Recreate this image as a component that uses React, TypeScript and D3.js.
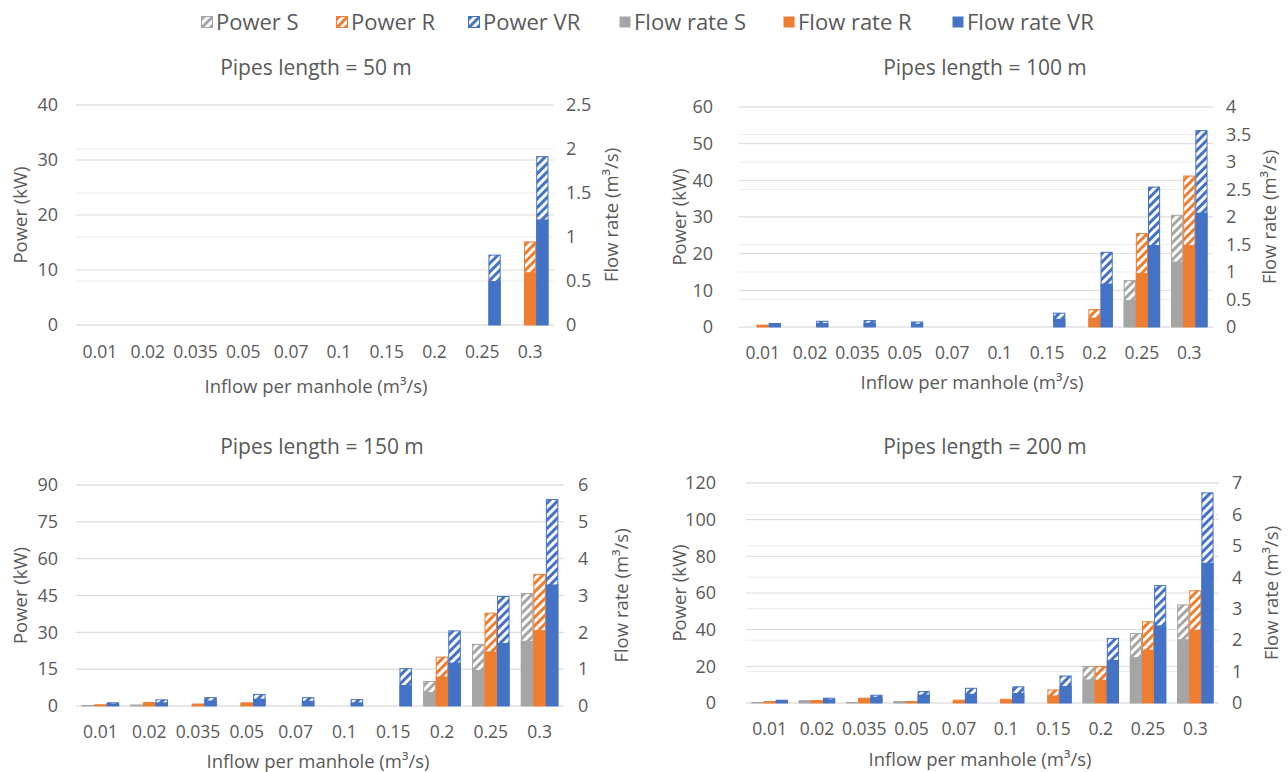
import * as d3 from "d3";
import React from "react";

const categories = ["0.01", "0.02", "0.035", "0.05", "0.07", "0.1", "0.15", "0.2", "0.25", "0.3"];
const seriesKeys = ["S", "R", "VR"];
const seriesColors: Record<string, string> = { S: "#A5A5A5", R: "#ED7D31", VR: "#4472C4" };

// Pipes length = 50 m
const powerS50 = [0, 0, 0, 0, 0, 0, 0, 0, 0, 0];
const powerR50 = [0, 0, 0, 0, 0, 0, 0, 0, 0, 15.2];
const powerVR50 = [0, 0, 0, 0, 0, 0, 0, 0, 12.8, 30.7];
const flowS50 = [0, 0, 0, 0, 0, 0, 0, 0, 0, 0];
const flowR50 = [0, 0, 0, 0, 0, 0, 0, 0, 0, 0.6];
const flowVR50 = [0, 0, 0, 0, 0, 0, 0, 0, 0.5, 1.2];

// Pipes length = 100 m
const powerS100 = [0, 0, 0, 0, 0, 0, 0, 0, 12.8, 30.6];
const powerR100 = [0.6, 0, 0, 0, 0, 0, 0, 4.9, 25.6, 41.3];
const powerVR100 = [1.1, 1.7, 1.9, 1.5, 0, 0, 3.9, 20.5, 38.3, 53.7];
const flowS100 = [0, 0, 0, 0, 0, 0, 0, 0, 0.49, 1.19];
const flowR100 = [0.04, 0, 0, 0, 0, 0, 0, 0.17, 0.98, 1.49];
const flowVR100 = [0.06, 0.07, 0.08, 0.06, 0, 0, 0.15, 0.79, 1.49, 2.08];

// Pipes length = 150 m
const powerS150 = [0.4, 0.6, 0, 0, 0, 0, 0, 10.2, 25.3, 46];
const powerR150 = [0.7, 1.6, 1.0, 1.5, 0, 0, 0, 20.1, 38, 53.8];
const powerVR150 = [1.5, 2.7, 3.6, 4.9, 3.6, 2.8, 15.4, 30.8, 44.8, 84.3];
const flowS150 = [0.02, 0.03, 0, 0, 0, 0, 0, 0.38, 0.98, 1.77];
const flowR150 = [0.03, 0.08, 0.05, 0.08, 0, 0, 0, 0.8, 1.48, 2.06];
const flowVR150 = [0.07, 0.1, 0.15, 0.2, 0.14, 0.1, 0.57, 1.18, 1.71, 3.3];

// Pipes length = 200 m
const powerS200 = [0.6, 1.5, 0.6, 1.0, 0, 0, 0, 20.2, 38.2, 53.8];
const powerR200 = [1.0, 1.6, 2.9, 1.0, 1.8, 2.3, 7.4, 20.2, 44.6, 61.5];
const powerVR200 = [1.8, 2.9, 4.5, 6.5, 8.3, 9.1, 15.0, 35.5, 64.3, 114.9];
const flowS200 = [0.03, 0.08, 0.03, 0.05, 0, 0, 0, 0.75, 1.46, 2.03];
const flowR200 = [0.05, 0.08, 0.15, 0.05, 0.08, 0.1, 0.24, 0.74, 1.7, 2.33];
const flowVR200 = [0.09, 0.12, 0.2, 0.27, 0.29, 0.32, 0.54, 1.37, 2.47, 4.46];

const legendItems = [
  { label: "Power S", key: "S", hatched: true },
  { label: "Power R", key: "R", hatched: true },
  { label: "Power VR", key: "VR", hatched: true },
  { label: "Flow rate S", key: "S", hatched: false },
  { label: "Flow rate R", key: "R", hatched: false },
  { label: "Flow rate VR", key: "VR", hatched: false },
];
const legendX = [201, 336, 468, 619, 783, 952];

type Layout = {
  left: number; right: number; top: number; bottom: number;
  leftTickX: number; rightTickX: number; leftTitleX: number; rightTitleX: number;
  titleX: number; titleY: number; catY: number; xTitleX: number; xTitleY: number;
};

type Panel = {
  title: string;
  powerMax: number; powerStep: number;
  flowMax: number; flowStep: number;
  power: number[][]; flow: number[][];
  layout: Layout;
};

const panels: Panel[] = [
  {
    title: "Pipes length = 50 m", powerMax: 40, powerStep: 10, flowMax: 2.5, flowStep: 0.5,
    power: [powerS50, powerR50, powerVR50], flow: [flowS50, flowR50, flowVR50],
    layout: { left: 76, right: 554, top: 105, bottom: 325, leftTickX: 58, rightTickX: 566, leftTitleX: 21, rightTitleX: 612, titleX: 316, titleY: 68, catY: 352, xTitleX: 316, xTitleY: 387 },
  },
  {
    title: "Pipes length = 100 m", powerMax: 60, powerStep: 10, flowMax: 4, flowStep: 0.5,
    power: [powerS100, powerR100, powerVR100], flow: [flowS100, flowR100, flowVR100],
    layout: { left: 739, right: 1213, top: 107, bottom: 327, leftTickX: 713, rightTickX: 1226, leftTitleX: 680, rightTitleX: 1270, titleX: 985, titleY: 68, catY: 353, xTitleX: 972, xTitleY: 383 },
  },
  {
    title: "Pipes length = 150 m", powerMax: 90, powerStep: 15, flowMax: 6, flowStep: 1,
    power: [powerS150, powerR150, powerVR150], flow: [flowS150, flowR150, flowVR150],
    layout: { left: 76, right: 564, top: 485, bottom: 706, leftTickX: 58, rightTickX: 578, leftTitleX: 21, rightTitleX: 622, titleX: 322, titleY: 447, catY: 732, xTitleX: 318, xTitleY: 762 },
  },
  {
    title: "Pipes length = 200 m", powerMax: 120, powerStep: 20, flowMax: 7, flowStep: 1,
    power: [powerS200, powerR200, powerVR200], flow: [flowS200, flowR200, flowVR200],
    layout: { left: 746, right: 1219, top: 483, bottom: 703, leftTickX: 716, rightTickX: 1232, leftTitleX: 680, rightTitleX: 1272, titleX: 985, titleY: 447, catY: 729, xTitleX: 980, xTitleY: 760 },
  },
];

const textColor = "#595959";
const font = "'Open Sans', 'Noto Sans', sans-serif";

const ChartPanel: React.FC<{ panel: Panel }> = ({ panel }) => {
  const L = panel.layout;
  const x = d3.scaleBand().domain(categories).range([L.left, L.right]);
  const xs = d3.scaleBand().domain(seriesKeys).range([0, x.bandwidth()]).paddingOuter(0.45);
  const yP = d3.scaleLinear().domain([0, panel.powerMax]).range([L.bottom, L.top]);
  const yF = d3.scaleLinear().domain([0, panel.flowMax]).range([L.bottom, L.top]);
  const pTicks = d3.range(0, panel.powerMax + 1e-9, panel.powerStep);
  const fTicks = d3.range(0, panel.flowMax + 1e-9, panel.flowStep);
  const midY = (L.top + L.bottom) / 2;

  return (
    <g fontFamily={font} fill={textColor}>
      {fTicks.map((t) => (
        <line key={"fg" + t} x1={L.left} x2={L.right} y1={yF(t)} y2={yF(t)} stroke="#EDEDED" strokeWidth={1} />
      ))}
      {pTicks.map((t) => (
        <line key={"pg" + t} x1={L.left} x2={L.right} y1={yP(t)} y2={yP(t)} stroke="#D9D9D9" strokeWidth={1} />
      ))}
      {seriesKeys.map((k, si) =>
        categories.map((c, ci) => {
          const pv = panel.power[si][ci];
          const fv = panel.flow[si][ci];
          const bx = (x(c) as number) + (xs(k) as number);
          const bw = xs.bandwidth();
          return (
            <g key={k + c}>
              {pv > 0 && (
                <rect x={bx + 0.5} y={yP(pv) + 0.5} width={bw - 1} height={Math.max(0, yP(0) - yP(pv) - 0.5)}
                  fill={`url(#hatch-${k})`} stroke={seriesColors[k]} strokeWidth={1} />
              )}
              {fv > 0 && (
                <rect x={bx} y={yF(fv)} width={bw} height={yF(0) - yF(fv)} fill={seriesColors[k]} />
              )}
            </g>
          );
        })
      )}
      {pTicks.map((t) => (
        <text key={"pt" + t} x={L.leftTickX} y={yP(t)} dy="0.35em" textAnchor="end" fontSize={18}>{t}</text>
      ))}
      {fTicks.map((t) => (
        <text key={"ft" + t} x={L.rightTickX} y={yF(t)} dy="0.35em" textAnchor="start" fontSize={18}>{t}</text>
      ))}
      {categories.map((c) => (
        <text key={"c" + c} x={(x(c) as number) + x.bandwidth() / 2} y={L.catY} dy="0.35em" textAnchor="middle" fontSize={17.5}>{c}</text>
      ))}
      <text x={L.titleX} y={L.titleY} dy="0.35em" textAnchor="middle" fontSize={21}>{panel.title}</text>
      <text x={L.xTitleX} y={L.xTitleY} dy="0.35em" textAnchor="middle" fontSize={18.5}>Inflow per manhole (m³/s)</text>
      <text transform={`translate(${L.leftTitleX},${midY}) rotate(-90)`} dy="0.35em" textAnchor="middle" fontSize={18.5}>Power (kW)</text>
      <text transform={`translate(${L.rightTitleX},${midY}) rotate(-90)`} dy="0.35em" textAnchor="middle" fontSize={18.5}>Flow rate (m³/s)</text>
    </g>
  );
};

export default function App() {
  return (
    <svg width={1288} height={772} style={{ position: "absolute", left: 0, top: 0, background: "#fff" }}>
      <defs>
        {seriesKeys.map((k) => (
          <pattern key={k} id={`hatch-${k}`} width={6} height={6} patternUnits="userSpaceOnUse" patternTransform="rotate(45)">
            <rect width={6} height={6} fill={seriesColors[k]} />
            <rect width={3} height={6} fill="#fff" />
          </pattern>
        ))}
      </defs>
      <rect width={1288} height={772} fill="#fff" />
      <g fontFamily={font} fill={textColor}>
        {legendItems.map((it, i) => (
          <g key={it.label} transform={`translate(${legendX[i]},22)`}>
            <rect x={0.5} y={-5.5} width={11} height={11}
              fill={it.hatched ? `url(#hatch-${it.key})` : seriesColors[it.key]}
              stroke={it.hatched ? seriesColors[it.key] : "none"} />
            <text x={15} y={0} dy="0.35em" fontSize={22}>{it.label}</text>
          </g>
        ))}
      </g>
      {panels.map((p) => (
        <ChartPanel key={p.title} panel={p} />
      ))}
    </svg>
  );
}
